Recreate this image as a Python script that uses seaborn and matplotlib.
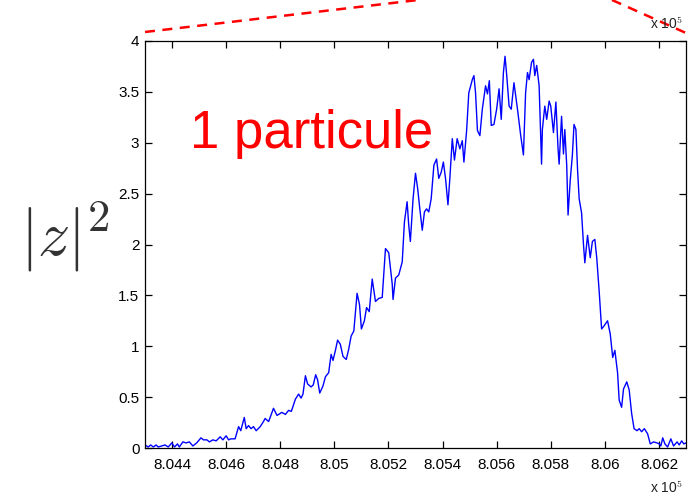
import matplotlib
matplotlib.use("Agg")
import matplotlib.pyplot as plt
from matplotlib.lines import Line2D
from matplotlib.ticker import FuncFormatter
import seaborn as sns
import pandas as pd

# Frequency (Hz) and squared amplitude |z|^2 of the single-particle spectrum
freq_hz = [
    804300, 804312, 804321, 804331, 804341, 804349, 804362, 804374, 804386, 804399,
    804409, 804420, 804427, 804440, 804452, 804464, 804477, 804491, 804507, 804516,
    804529, 804538, 804551, 804563, 804578, 804588, 804600, 804609, 804617, 804633,
    804646, 804654, 804667, 804674, 804683, 804692, 804701, 804711, 804726, 804738,
    804744, 804757, 804775, 804788, 804806, 804819, 804831, 804841, 804856, 804868,
    804877, 804884, 804893, 804901, 804914, 804922, 804931, 804938, 804946, 804958,
    804967, 804979, 804988, 804995, 805004, 805012, 805022, 805032, 805044, 805053,
    805062, 805072, 805084, 805093, 805100, 805111, 805119, 805129, 805140, 805152,
    805164, 805177, 805189, 805201, 805214, 805217, 805226, 805238, 805251, 805259,
    805269, 805275, 805281, 805291, 805300, 805308, 805316, 805325, 805333, 805341,
    805349, 805358, 805368, 805378, 805386, 805395, 805403, 805411, 805420, 805427,
    805436, 805444, 805454, 805464, 805473, 805479, 805489, 805497, 805510, 805516,
    805522, 805529, 805538, 805547, 805559, 805566, 805573, 805580, 805590, 805600,
    805609, 805617, 805625, 805631, 805637, 805646, 805654, 805664, 805677, 805689,
    805699, 805707, 805714, 805720, 805729, 805736, 805741, 805748, 805757, 805766,
    805769, 805778, 805785, 805794, 805800, 805810, 805819, 805827, 805831, 805840,
    805847, 805852, 805859, 805864, 805872, 805880, 805886, 805893, 805899, 805905,
    805914, 805921, 805926, 805936, 805946, 805954, 805963, 805970, 805979, 805988,
    805997, 806010, 806020, 806029, 806037, 806047, 806053, 806062, 806069, 806081,
    806090, 806099, 806108, 806119, 806127, 806136, 806146, 806158, 806168, 806180,
    806193, 806201, 806207, 806214, 806222, 806232, 806244, 806254, 806267, 806275,
    806284, 806292, 806300,
]
z_sq = [
    0.03, 0.01, 0.03, 0.01, 0.03, 0.01, 0.02, 0.03, 0.01, 0.05,
    0.01, 0.04, 0.01, 0.06, 0.05, 0.06, 0.02, 0.05, 0.10, 0.08,
    0.08, 0.06, 0.08, 0.07, 0.11, 0.08, 0.12, 0.08, 0.09, 0.09,
    0.21, 0.17, 0.30, 0.19, 0.22, 0.19, 0.21, 0.17, 0.21, 0.26,
    0.29, 0.26, 0.39, 0.32, 0.35, 0.33, 0.37, 0.36, 0.48, 0.53,
    0.49, 0.53, 0.71, 0.63, 0.60, 0.62, 0.72, 0.67, 0.54, 0.61,
    0.70, 0.74, 0.92, 0.86, 0.96, 1.06, 1.02, 0.90, 0.87, 0.97,
    1.10, 1.15, 1.52, 1.41, 1.17, 1.25, 1.38, 1.34, 1.66, 1.44,
    1.47, 1.48, 1.96, 1.92, 1.61, 1.46, 1.67, 1.70, 1.83, 2.22,
    2.42, 2.19, 2.03, 2.45, 2.70, 2.55, 2.35, 2.14, 2.32, 2.35,
    2.32, 2.45, 2.78, 2.84, 2.65, 2.71, 2.81, 2.65, 2.39, 2.65,
    3.04, 2.83, 3.04, 2.94, 3.02, 2.81, 3.12, 3.49, 3.62, 3.66,
    3.49, 3.12, 3.07, 3.33, 3.56, 3.48, 3.61, 3.17, 3.18, 3.33,
    3.53, 3.23, 3.69, 3.85, 3.67, 3.36, 3.33, 3.59, 3.33, 3.07,
    2.88, 3.49, 3.69, 3.62, 3.79, 3.82, 3.66, 3.76, 3.56, 2.79,
    3.13, 3.36, 3.23, 3.41, 3.36, 3.10, 3.40, 2.94, 2.79, 3.26,
    2.89, 3.13, 2.78, 2.29, 2.63, 2.88, 3.18, 3.13, 2.74, 2.45,
    2.31, 2.00, 1.82, 2.09, 1.87, 2.03, 2.05, 1.87, 1.54, 1.17,
    1.20, 1.25, 1.12, 0.89, 0.96, 0.74, 0.47, 0.40, 0.58, 0.65,
    0.57, 0.34, 0.19, 0.17, 0.19, 0.16, 0.19, 0.14, 0.04, 0.06,
    0.05, 0.04, 0.02, 0.10, 0.04, 0.01, 0.09, 0.02, 0.06, 0.03,
    0.07, 0.04, 0.05,
]

x_ticks = [804400, 804600, 804800, 805000, 805200, 805400,
           805600, 805800, 806000, 806200]
y_ticks = [0, 0.5, 1, 1.5, 2, 2.5, 3, 3.5, 4]

sns.set_style("ticks")
plt.rcParams["font.family"] = ["Liberation Sans", "DejaVu Sans"]
plt.rcParams["mathtext.fontset"] = "cm"

W, H = 693, 497
fig = plt.figure(figsize=(W / 100, H / 100), dpi=100)
fig.patch.set_facecolor("white")
ax = fig.add_axes([145 / W, 1 - 448 / H, 541 / W, 407 / H])

df = pd.DataFrame({"freq": freq_hz, "amp": z_sq})
sns.lineplot(data=df, x="freq", y="amp", ax=ax, color="#0000ff",
             linewidth=1.0, estimator=None, sort=False)

ax.set_xlim(804300, 806300)
ax.set_ylim(0, 4)
ax.set_xticks(x_ticks)
ax.set_yticks(y_ticks)
ax.xaxis.set_major_formatter(FuncFormatter(lambda v, p: f"{v / 1e5:g}"))
ax.yaxis.set_major_formatter(FuncFormatter(lambda v, p: f"{v:g}"))
ax.set_xlabel("")
ax.set_ylabel("")
for s in ax.spines.values():
    s.set_visible(True)
    s.set_color("black")
    s.set_linewidth(0.9)
ax.tick_params(axis="both", direction="in", top=True, right=True,
               length=5, width=0.9, labelsize=11, colors="black")
ax.tick_params(axis="x", pad=7)
ax.tick_params(axis="y", pad=4)

# annotation inside the axes
ax.text(0.083, 0.737, "1 particule", transform=ax.transAxes, color="#ff0000",
        fontsize=38, ha="left", va="baseline")

# y quantity
fig.text(65 / W, 1 - 237 / H, r"$|z|^2$", fontsize=46, ha="center",
         va="center", color="#333333")

# exponent markers
fig.text(683 / W, 1 - 24 / H, r"x 10$^{5}$", fontsize=10, ha="right",
         va="center", color="#222222")
fig.text(683 / W, 1 - 488 / H, r"x 10$^{5}$", fontsize=10, ha="right",
         va="center", color="#222222")

# zoom connector lines from the overview plot above
for (x0, y0), (x1, y1) in [((145, 32), (418, 0)), ((612, 0), (686, 33))]:
    fig.add_artist(Line2D([x0 / W, x1 / W], [1 - y0 / H, 1 - y1 / H],
                          transform=fig.transFigure, color="#ff0000",
                          linewidth=1.8, linestyle=(0, (4, 3)),
                          clip_on=False))

fig.savefig("out.png", dpi=100, facecolor="white")
